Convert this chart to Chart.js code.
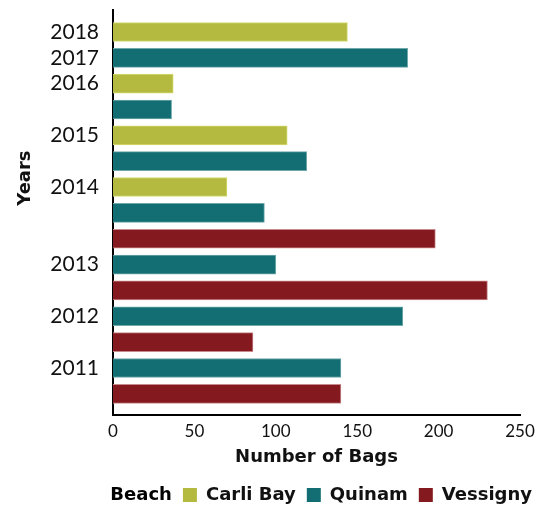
<!DOCTYPE html>
<html>
<head>
<meta charset="utf-8">
<script src="https://cdn.jsdelivr.net/npm/chart.js@4"></script>
<style>
  html, body { margin: 0; padding: 0; background: #fff; }
  #wrap { width: 543px; height: 506px; }
</style>
</head>
<body>
<div id="wrap"><canvas id="c" width="543" height="506"></canvas></div>
<script>
// Row labels (one per bar, top to bottom)
const rowLabels = ['2018','2017','2016','','2015','','2014','','','2013','','2012','','2011',''];
// Series values per row (null = no bar for that beach in that row)
const carliBay = [144, null, 37, null, 107, null, 70, null, null, null, null, null, null, null, null];
const quinam   = [null, 181, null, 36, null, 119, null, 93, null, 100, null, 178, null, 140, null];
const vessigny = [null, null, null, null, null, null, null, null, 198, null, 230, null, 86, null, 140];
const seriesNames = ['Carli Bay', 'Quinam', 'Vessigny'];
const xTicks = [0, 50, 100, 150, 200, 250];
const legendTitle = 'Beach';
const xTitle = 'Number of Bags';
const yTitle = 'Years';

const colors = ['#b3ba3f', '#126e72', '#841a1f'];
const borders = ['#d4db70', '#6fa9ab', '#c98a8d'];

function toPoints(arr) {
  const out = [];
  arr.forEach((v, i) => { if (v !== null) out.push({ x: v, y: i }); });
  return out;
}

const FONT = 'Lato, "DejaVu Sans", sans-serif';
const BOLD = '"DejaVu Sans", sans-serif';

// draws the y-axis title a little above the middle, as in the reference
const yTitlePlugin = {
  id: 'yTitle',
  afterDraw(ch) {
    const a = ch.chartArea;
    const ctx = ch.ctx;
    ctx.save();
    ctx.translate(25, a.top + (a.bottom - a.top) * 0.415);
    ctx.rotate(-Math.PI / 2);
    ctx.font = 'bold 18px ' + BOLD;
    ctx.fillStyle = '#111';
    ctx.textAlign = 'center';
    ctx.textBaseline = 'middle';
    ctx.fillText(yTitle, 0, 0);
    ctx.restore();
  }
};

const chart = new Chart(document.getElementById('c'), {
  type: 'bar',
  data: {
    datasets: [carliBay, quinam, vessigny].map((arr, k) => ({
      label: seriesNames[k],
      data: toPoints(arr),
      backgroundColor: colors[k],
      borderColor: borders[k],
      borderWidth: 1,
      borderSkipped: 'start',
      barThickness: 19,
      grouped: false
    }))
  },
  plugins: [yTitlePlugin],
  options: {
    indexAxis: 'y',
    responsive: false,
    animation: false,
    layout: { padding: { left: 0, right: 0, top: 10, bottom: 0 } },
    scales: {
      x: {
        type: 'linear',
        min: xTicks[0],
        max: xTicks[xTicks.length - 1],
        afterBuildTicks: (s) => { s.ticks = xTicks.map(v => ({ value: v })); },
        afterFit: (s) => { s.height = 60; s.paddingRight = 23; },
        grid: { display: false, drawTicks: false },
        border: { display: true, color: '#000', width: 2 },
        ticks: { color: '#111', font: { family: FONT, size: 17 }, padding: 6 },
        title: { display: true, text: xTitle, color: '#111',
                 font: { family: BOLD, size: 18, weight: 'bold' }, padding: { top: 0, bottom: 7 } }
      },
      y: {
        type: 'linear',
        offset: false,
        reverse: true,
        min: -0.85,
        max: rowLabels.length - 1 + 0.82,
        afterBuildTicks: (s) => {
          s.ticks = rowLabels.map((l, i) => ({ value: i })).filter((t, i) => rowLabels[i] !== '');
        },
        afterFit: (s) => { s.width = 113; s.paddingTop = 0; s.paddingBottom = 0; },
        grid: { display: false, drawTicks: false },
        border: { display: true, color: '#000', width: 2 },
        ticks: {
          color: '#111', font: { family: FONT, size: 21 }, padding: 14,
          callback: (v) => rowLabels[v] !== undefined ? rowLabels[v] : ''
        },
        title: { display: false }
      }
    },
    plugins: {
      legend: {
        position: 'bottom',
        align: 'end',
        maxHeight: 31,
        labels: {
          color: '#111',
          font: { family: BOLD, size: 18, weight: 'bold' },
          boxWidth: 14, boxHeight: 14, padding: 11,
          generateLabels: (ch) => {
            const base = Chart.defaults.plugins.legend.labels.generateLabels(ch);
            base.forEach(b => { b.strokeStyle = b.fillStyle; b.lineWidth = 0; });
            return [{ text: legendTitle, fillStyle: 'rgba(0,0,0,0)', strokeStyle: 'rgba(0,0,0,0)', lineWidth: 0, hidden: false, datasetIndex: -1 }].concat(base);
          }
        },
        onClick: () => {}
      },
      tooltip: { enabled: false }
    }
  }
});
</script>
</body>
</html>
